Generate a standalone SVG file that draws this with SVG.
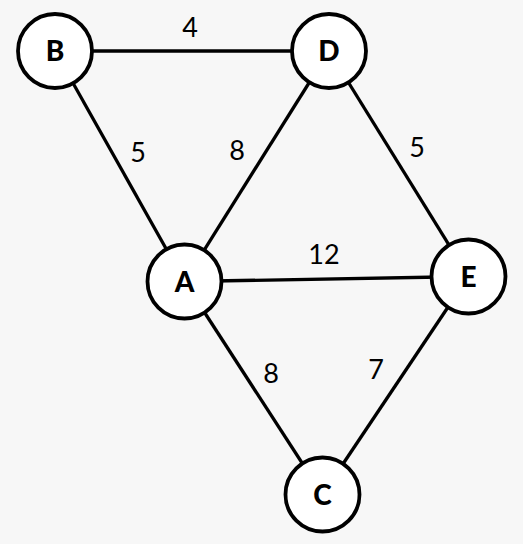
<svg xmlns="http://www.w3.org/2000/svg" width="523" height="544" viewBox="0 0 523 544">
<style>
.edge{stroke:#000;stroke-width:3.3;fill:none}
.node circle{fill:#fff;stroke:#000;stroke-width:3.8}
.node text{font-family:Lato,"Liberation Sans",sans-serif;font-weight:900;font-size:28px;text-anchor:middle;fill:#000}
.lbl{font-family:Lato,"Liberation Sans",sans-serif;font-size:27px;text-anchor:middle;fill:#000}
</style>
<rect width="523" height="544" fill="#f7f7f7"/>
<g id="edges">
<line class="edge" x1="55" y1="51" x2="329" y2="51"/>
<line class="edge" x1="55" y1="51" x2="184.5" y2="281.5"/>
<line class="edge" x1="329" y1="51" x2="184.5" y2="281.5"/>
<line class="edge" x1="329" y1="51" x2="468.5" y2="276.5"/>
<line class="edge" x1="184.5" y1="281.5" x2="468.5" y2="276.5"/>
<line class="edge" x1="184.5" y1="281.5" x2="322.5" y2="494.5"/>
<line class="edge" x1="468.5" y1="276.5" x2="322.5" y2="494.5"/>
<text class="lbl" x="190" y="37">4</text>
<text class="lbl" x="138" y="162">5</text>
<text class="lbl" x="237" y="160">8</text>
<text class="lbl" x="417" y="157">5</text>
<text class="lbl" x="324" y="264">12</text>
<text class="lbl" x="271" y="383">8</text>
<text class="lbl" x="376" y="379">7</text>
</g>
<g id="B" class="node"><circle cx="55" cy="51" r="37"/><text x="55" y="61">B</text></g>
<g id="D" class="node"><circle cx="329" cy="51" r="37"/><text x="329" y="61">D</text></g>
<g id="A" class="node"><circle cx="184.5" cy="281.5" r="37"/><text x="184.5" y="291.5">A</text></g>
<g id="E" class="node"><circle cx="468.5" cy="276.5" r="37"/><text x="468.5" y="286.5">E</text></g>
<g id="C" class="node"><circle cx="322.5" cy="494.5" r="37"/><text x="322.5" y="504.5">C</text></g>
</svg>
